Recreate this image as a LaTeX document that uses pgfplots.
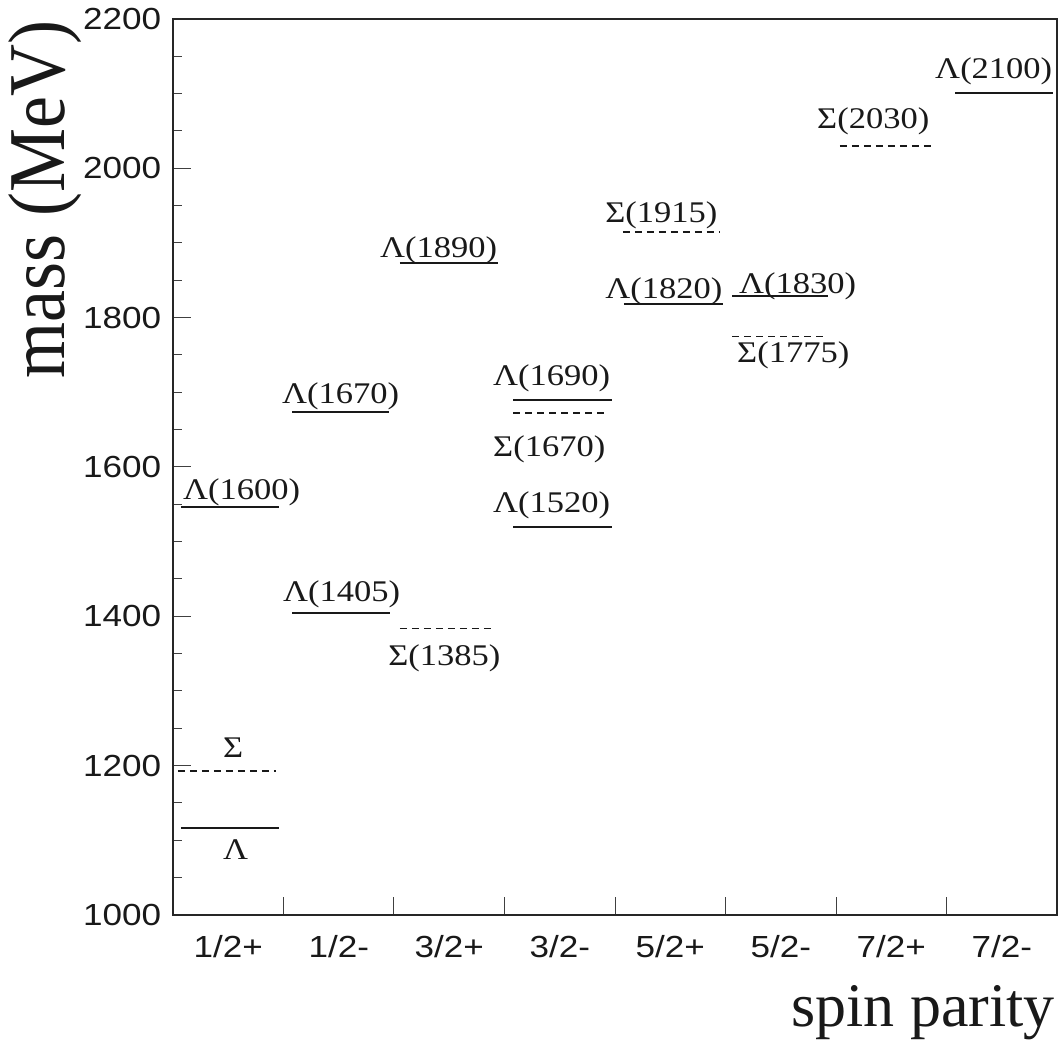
\documentclass[border=0pt]{standalone}
\usepackage{pgfplots}
\pgfplotsset{compat=1.18}
\usepackage{fontspec}
\setmainfont{Liberation Serif}
\newfontfamily\sansf{Liberation Sans}
\begin{document}
\begin{tikzpicture}
\tikzset{lab/.style={font=\fontsize{30}{36}\selectfont, inner sep=0pt, xscale=1.15, text=black!90}}
\begin{axis}[
  at={(0pt,0pt)}, anchor=south west,
  scale only axis, width=884pt, height=896pt,
  xmin=0, xmax=8, ymin=1000, ymax=2200,
  clip=false,
  axis line style={black!85, line width=1.5pt},
  tick pos=left, tick align=inside,
  major tick length=18pt, minor tick length=9pt,
  every tick/.style={black!75, line width=1pt},
  ytick distance=200, minor y tick num=3,
  /pgf/number format/1000 sep={},
  /pgf/number format/assume math mode=true,
  yticklabel style={font=\sansf\fontsize{30.5}{36}\selectfont, xscale=1.15, inner sep=0pt, anchor=east, xshift=-10pt, text=black!90},
  xtick={1,2,3,4,5,6,7}, xticklabels={},
  extra x ticks={0.5,1.5,2.5,3.5,4.5,5.5,6.5,7.5},
  extra x tick labels={1/2+,1/2-,3/2+,3/2-,5/2+,5/2-,7/2+,7/2-},
  extra x tick style={major tick length=0pt},
  xticklabel style={font=\sansf\fontsize{30.5}{36}\selectfont, xscale=1.15, inner sep=0pt, anchor=north, yshift=-20pt, text=black!90},
]
% Lambda states (solid)
\addplot[black!90, line width=2pt] coordinates {(0.072,1116) (0.959,1116)};
\addplot[black!90, line width=2pt] coordinates {(0.072,1546) (0.959,1546)};
\addplot[black!90, line width=2pt] coordinates {(1.077,1405) (1.964,1405)};
\addplot[black!90, line width=2pt] coordinates {(1.077,1673) (1.955,1673)};
\addplot[black!90, line width=2pt] coordinates {(2.054,1873) (2.941,1873)};
\addplot[black!90, line width=2pt] coordinates {(3.077,1520) (3.973,1520)};
\addplot[black!90, line width=2pt] coordinates {(3.077,1690) (3.973,1690)};
\addplot[black!90, line width=2pt] coordinates {(4.081,1818) (4.977,1818)};
\addplot[black!90, line width=2pt] coordinates {(5.059,1829) (5.928,1829)};
\addplot[black!90, line width=2pt] coordinates {(7.077,2101) (7.964,2101)};
% Sigma states (dashed)
\addplot[black!90, line width=1.5pt, dash pattern=on 7pt off 5pt] coordinates {(0.045,1193) (0.932,1193)};
\addplot[black!90, line width=1.5pt, dash pattern=on 7pt off 5pt] coordinates {(2.054,1384) (2.914,1384)};
\addplot[black!90, line width=1.5pt, dash pattern=on 7pt off 5pt] coordinates {(3.077,1672) (3.937,1672)};
\addplot[black!90, line width=1.5pt, dash pattern=on 7pt off 5pt] coordinates {(4.072,1915) (4.950,1915)};
\addplot[black!90, line width=1.5pt, dash pattern=on 7pt off 5pt] coordinates {(5.059,1775) (5.919,1775)};
\addplot[black!90, line width=1.5pt, dash pattern=on 7pt off 5pt] coordinates {(6.036,2030) (6.896,2030)};
% labels
\node[lab, anchor=base west] at (axis cs:0.452,1073.7) {Λ};
\node[lab, anchor=base west] at (axis cs:0.452,1210.3) {Σ};
\node[lab, anchor=base west] at (axis cs:0.0905,1555.8) {Λ(1600)};
\node[lab, anchor=base west] at (axis cs:0.995,1420.5) {Λ(1405)};
\node[lab, anchor=base west] at (axis cs:0.986,1685.7) {Λ(1670)};
\node[lab, anchor=base west] at (axis cs:1.946,1334.8) {Σ(1385)};
\node[lab, anchor=base west] at (axis cs:1.873,1879.9) {Λ(1890)};
\node[lab, anchor=base west] at (axis cs:2.896,1538.4) {Λ(1520)};
\node[lab, anchor=base west] at (axis cs:2.896,1709.8) {Λ(1690)};
\node[lab, anchor=base west] at (axis cs:2.896,1613.4) {Σ(1670)};
\node[lab, anchor=base west] at (axis cs:3.910,1928.1) {Σ(1915)};
\node[lab, anchor=base west] at (axis cs:3.910,1825.0) {Λ(1820)};
\node[lab, anchor=base west] at (axis cs:5.122,1833.0) {Λ(1830)};
\node[lab, anchor=base west] at (axis cs:5.104,1740.6) {Σ(1775)};
\node[lab, anchor=base west] at (axis cs:5.828,2054.0) {Σ(2030)};
\node[lab, anchor=base west] at (axis cs:6.896,2120.9) {Λ(2100)};
\end{axis}
\node[font=\fontsize{72}{80}\selectfont, inner sep=0pt, xscale=1.12, rotate=90, anchor=base east, text=black!90] at (-108pt,895pt) {mass (MeV)};
\node[font=\fontsize{62}{70}\selectfont, inner sep=0pt, anchor=base east, text=black!90] at (882pt,-112pt) {spin parity};
\pgfresetboundingbox
\path (-173pt,-131pt) rectangle (888pt,915pt);
\end{tikzpicture}
\end{document}
